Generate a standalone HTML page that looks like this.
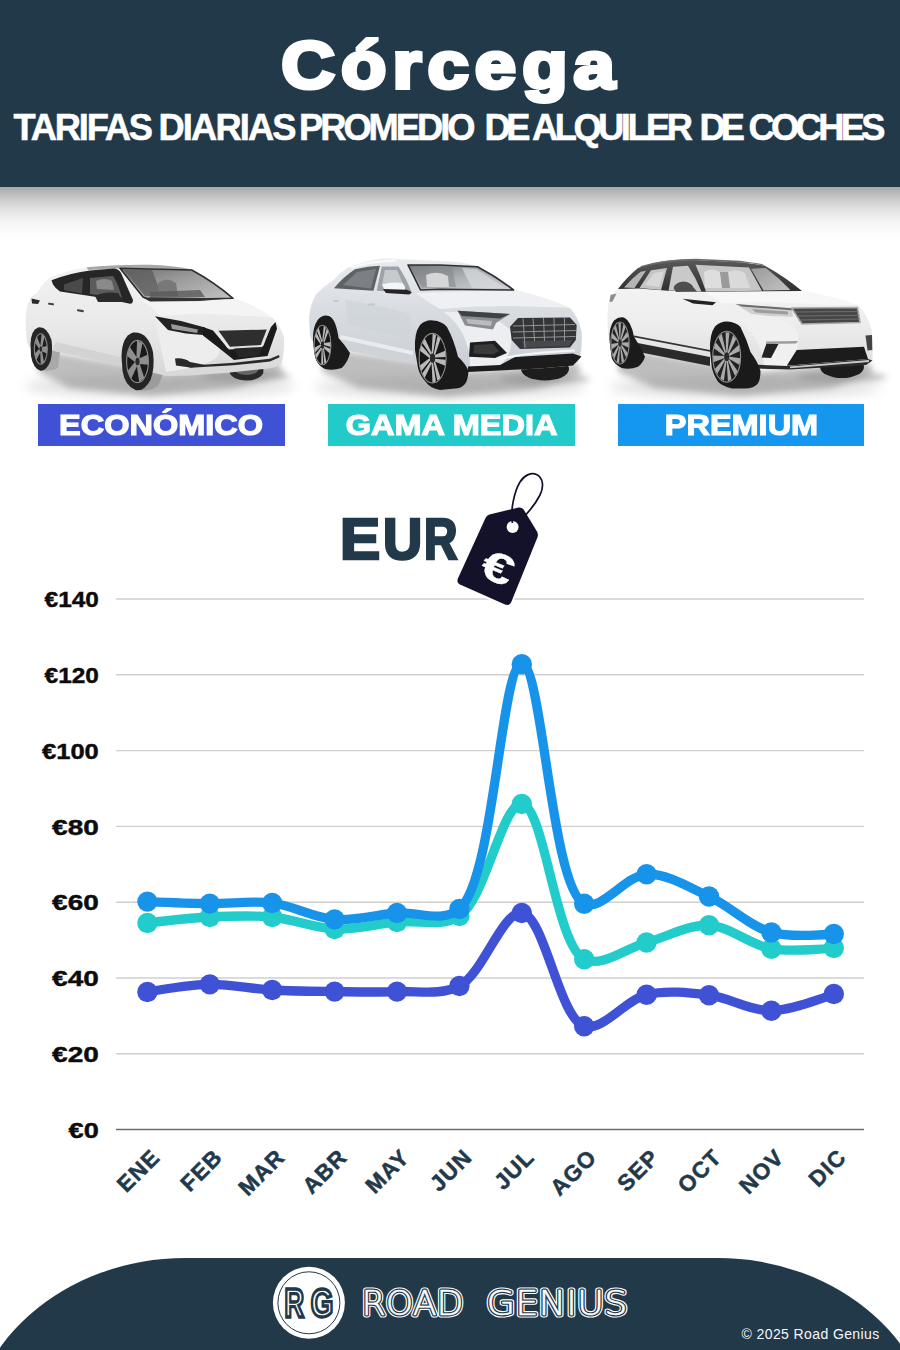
<!DOCTYPE html>
<html lang="es">
<head>
<meta charset="utf-8">
<title>Córcega – Tarifas diarias promedio de alquiler de coches</title>
<style>
html,body{margin:0;padding:0;background:#fff;}
body{width:900px;height:1350px;overflow:hidden;position:relative;font-family:"Liberation Sans",sans-serif;}
#page{position:absolute;left:0;top:0;width:900px;height:1350px;overflow:hidden;background:#fff;}
.hdr{position:absolute;left:0;top:0;width:900px;height:186.5px;background:#22394a;z-index:3;}
.hshadow{position:absolute;left:0;top:186px;width:900px;height:70px;z-index:1;
  background:linear-gradient(to bottom,rgba(155,155,155,.9) 0,rgba(178,178,178,.78) 10px,rgba(200,200,200,.57) 22px,rgba(225,225,225,.33) 36px,rgba(245,245,245,.12) 50px,rgba(255,255,255,0) 62px);}
.title{position:absolute;left:-2px;top:25px;width:900px;text-align:center;color:#fff;font-weight:700;font-size:67px;line-height:80px;letter-spacing:5.5px;text-indent:5.5px;-webkit-text-stroke:4px #fff;white-space:nowrap;z-index:4;transform:scaleX(1.108);transform-origin:449px 0;}
.sb text{font-family:"Liberation Sans",sans-serif;font-weight:700;font-size:36.3px;fill:#fff;stroke:#fff;stroke-width:.5px;}
.eu{font-family:"Liberation Sans",sans-serif;font-weight:700;font-size:56.5px;fill:#22394a;stroke:#22394a;stroke-width:2.6px;stroke-linejoin:miter;}
.lab{position:absolute;top:404px;height:42px;color:#fff;font-weight:700;font-size:29px;line-height:42px;text-align:center;white-space:nowrap;z-index:5;-webkit-text-stroke:1.2px #fff;}
.lab span{display:inline-block;transform:scaleX(1.12);}
.l1{left:38px;width:247px;background:#3f51d5;}
.l2{left:328px;width:247px;background:#22cbc9;}
.l3{left:618px;width:246px;background:#1596ef;}
svg{position:absolute;left:0;top:0;}
.yl{font-family:"Liberation Sans",sans-serif;font-weight:700;font-size:22.3px;fill:#0c0c0c;stroke:#0c0c0c;stroke-width:.45px;}
.xl{font-family:"Liberation Sans",sans-serif;font-weight:700;font-size:22.5px;fill:#22394a;stroke:#22394a;stroke-width:.5px;letter-spacing:1.1px;}
.ftr{position:absolute;left:-35px;top:1258px;width:973px;height:220px;background:#22394a;border-top-left-radius:220px 195px;border-top-right-radius:220px 195px;z-index:3;}
.copy{position:absolute;left:741.5px;top:1326px;color:#f4f6f8;font-size:14px;line-height:16px;letter-spacing:.4px;white-space:nowrap;z-index:6;}
</style>
</head>
<body>
<div id="page">
<div class="hshadow"></div>
<div class="hdr"></div>
<div class="title">Córcega</div>
<svg id="sub" width="900" height="190" viewBox="0 0 900 190" style="z-index:4"><g class="sb"><text y="140.3"><tspan x="13.50" textLength="139.50" lengthAdjust="spacing">TARIFAS</tspan> <tspan x="158.50" textLength="138.00" lengthAdjust="spacing">DIARIAS</tspan> <tspan x="299.00" textLength="176.50" lengthAdjust="spacing">PROMEDIO</tspan> <tspan x="484.50" textLength="46.00" lengthAdjust="spacing">DE</tspan> <tspan x="532.00" textLength="161.00" lengthAdjust="spacing">ALQUILER</tspan> <tspan x="699.50" textLength="45.50" lengthAdjust="spacing">DE</tspan> <tspan x="748.50" textLength="137.00" lengthAdjust="spacing">COCHES</tspan></text></g></svg>

<svg id="cars" width="900" height="470" viewBox="0 0 900 470" style="z-index:2">
<defs>
<filter id="blur6" x="-20%" y="-100%" width="140%" height="300%"><feGaussianBlur stdDeviation="6"/></filter>
<filter id="blur3" x="-20%" y="-100%" width="140%" height="300%"><feGaussianBlur stdDeviation="3"/></filter>
<filter id="blur1"><feGaussianBlur stdDeviation="0.7"/></filter>
<linearGradient id="b1" x1="0" y1="0" x2="0" y2="1"><stop offset="0" stop-color="#f3f3f3"/><stop offset=".55" stop-color="#e9e9e9"/><stop offset="1" stop-color="#d7d7d7"/></linearGradient>
<linearGradient id="ws1" x1="0" y1="0" x2="1" y2="1"><stop offset="0" stop-color="#6e6e6e"/><stop offset=".45" stop-color="#9c9c9c"/><stop offset="1" stop-color="#c4c4c4"/></linearGradient>
<linearGradient id="rim" x1="0" y1="0" x2="1" y2="1"><stop offset="0" stop-color="#b5b5b5"/><stop offset=".5" stop-color="#6e6e6e"/><stop offset="1" stop-color="#a5a5a5"/></linearGradient>
</defs>
<g id="car1">
<!-- ground shadow -->
<ellipse cx="160" cy="386" rx="135" ry="11" fill="#9a9a9a" opacity=".3" filter="url(#blur6)"/>
<ellipse cx="245" cy="376" rx="45" ry="5" fill="#777" opacity=".45" filter="url(#blur3)"/>
<path d="M40 350 L122 364 L160 374 L278 362 L284 374 L235 388 L150 396 L70 388 L38 372 Z" fill="#8a8a8a" opacity=".55" filter="url(#blur3)"/>
<!-- far front wheel -->
<ellipse cx="246.5" cy="371" rx="17" ry="9.5" fill="#2a2a2a"/>
<ellipse cx="246.5" cy="369" rx="12" ry="6" fill="#666"/>
<!-- tyre treads (visible thickness) -->
<path d="M44 330 Q58 338 60 352 L58 368 Q50 372 41 370 Z" fill="#a9a9a9"/>
<path d="M146 340 Q163 352 164 372 L158 386 Q148 392 138 390 Z" fill="#9c9c9c"/>
<!-- body -->
<path d="M50 277.5 Q66 270.5 86.7 267.3 Q113 264.5 150 264.8 Q172 265.2 191.7 269.5 Q214 282 233 298 Q256 306 273 318 Q281 327 284 337 Q284.5 352 281.7 363 Q277 367.5 268 368.5 L230 372.5 L190 375.5 L166 376 L154 373 L120 365.5 L52 350.5 L31.7 350 Q27 345 26.5 338 L25.6 320 Q26 306 30 299 Q33 295 36.7 293 Q42 284 50 277.5 Z" fill="url(#b1)"/>
<!-- body shading -->
<path d="M52 350.5 L120 365.5 L154 373 L154 366 L120 357 L56 342 Z" fill="#d0d0d0" opacity=".8"/>
<path d="M233 298 Q256 306 273 318 Q262 316 246 316 Q200 312 160 316 Q150 305 140 300 Z" fill="#f4f4f4"/>
<path d="M155 318 Q200 326 218 346 Q226 360 190 368 L166 372 Q160 345 155 318Z" fill="#ededed"/>
<!-- roof strip -->
<path d="M86.7 267.3 Q113 264.5 150 264.8 Q172 265.2 191.7 269.5 L191 271.5 Q160 267.5 118 268.5 L88 270 Z" fill="#a8a8a8"/>
<!-- side windows -->
<path d="M51.5 280.3 Q68 273.3 90 270.4 L114 268.6 Q119 269.2 121 273 L133 300 Q133 304.5 129 303.5 L100 297.5 L60 291.5 Q55 288 53 284.5 Z" fill="#262626"/>
<path d="M64 284.5 L83 278 L82 293.5 L64 290 Z" fill="#4a4a4a"/>
<path d="M90 278 L113 276 Q118 283 122 298 L104 296 L90 294 Z" fill="#5b5b5b"/>
<path d="M96 281 Q105 277 112 281 L114 290 L97 289 Z" fill="#8a8a8a"/>
<!-- windshield -->
<path d="M120 268.3 L191.7 270 Q214 282 233 298.3 L175 299.5 L150 300 L143 297 Z" fill="url(#ws1)" stroke="#2e2e2e" stroke-width="1.6" stroke-linejoin="round"/>
<path d="M124 270 L152 270 L162 296 L145 296 Z" fill="#5c5c5c" opacity=".75"/>
<path d="M158 283 Q167 276 176 283 L178 296 L158 296 Z" fill="#787878"/><path d="M150 292 L200 290 L205 297 L150 298Z" fill="#5a5a5a" opacity=".8"/>
<path d="M143 297.5 L233 298.3 L200 301 L150 301.5Z" fill="#333"/>
<!-- mirror -->
<path d="M95 296 Q104 291 118 293 L124 302 L98 302 Z" fill="#2b2b2b"/>
<!-- tail lamp / handles -->
<path d="M31.5 298.5 L40 300.5 L38 304 L32 303.5Z" fill="#2a2a2a"/>
<rect x="48" y="303" width="6" height="2" rx="1" fill="#444" transform="rotate(8 51 304)"/>
<rect x="77" y="309.5" width="7" height="2.2" rx="1" fill="#444" transform="rotate(10 80 310)"/>
<!-- headlight -->
<path d="M155 316.3 L181 321 L205 327.5 L203 335 L186 333.5 L168 330 Z" fill="#222"/>
<path d="M171 324 L198 329.5 L197 333 L172 329 Z" fill="#9a9a9a"/>
<!-- V-motion dark -->
<path d="M203 327 L213 330.5 L229 349.5 L262 347.5 L271 327 L275.5 322 L277 328.5 L267.5 356 L234 360 L219 348 L203 335.5 Z" fill="#1b1b1b"/>
<path d="M218.5 330.8 L266.7 329.6 L260.8 345 L230 346.7 Z" fill="#2e2e2e"/><path d="M214.5 330.6 L217.5 330.8 L229.6 347.6 L227.5 348.3Z" fill="#e8e8e8"/><path d="M267.8 329.6 L270 328.2 L263.3 346 L261.5 346Z" fill="#e0e0e0"/>
<path d="M234 348.5 L262 347 L259 356 L238 357.5Z" fill="#262626"/>
<!-- lower line & fog -->
<path d="M175 358.5 Q184 357.5 190 362 L208 365.5 L190 367.5 L176 365.5 Z" fill="#2a2a2a"/>
<path d="M188 365.8 L234 362.8 L270 358.8 L279 355 L279.6 357.2 L270 361.4 L234 365.3 L190 367.8Z" fill="#2a2a2a"/>
<!-- rear wheel -->
<path d="M30.5 344 Q31 330 38 327.5 Q47 326 51.5 340 Q53 352 50.5 361 Q46 372 40 370.5 Q33 368 31 356 Z" fill="#262626"/>
<g class="rim"><ellipse cx="40.8" cy="349.0" rx="6.8" ry="15.8" fill="#1c1c1c"/><path d="M40.3 346.2 L41.6 333.9 L44.6 336.7 L42.0 347.7 Z M41.8 347.1 L47.2 346.0 L47.0 353.6 L41.7 351.2 Z M41.9 350.6 L44.0 362.2 L40.8 364.2 L40.2 351.7 Z M40.5 351.9 L36.4 360.1 L34.6 353.8 L39.5 348.5 Z M39.5 349.2 L34.9 342.6 L36.9 336.8 L40.6 346.0 Z" fill="#8e8e8e"/><ellipse cx="40.8" cy="349.0" rx="6.5" ry="15.3" fill="none" stroke="#8d8d8d" stroke-width="1.1"/><ellipse cx="40.8" cy="349.0" rx="1.2" ry="2.7" fill="#2a2a2a"/></g><!--c1r-->
<!-- front wheel -->
<path d="M121.5 356 Q122 336 133 332.5 Q148 331 153 352 Q155 368 150.5 380 Q144 392 135.5 390 Q125 386 122.5 371 Z" fill="#242424"/>
<g class="rim"><ellipse cx="137.5" cy="361.5" rx="11.5" ry="21.8" fill="#1a1a1a"/><path d="M136.4 357.9 L137.1 340.6 L142.5 342.9 L139.3 359.1 Z M139.0 358.4 L147.9 354.4 L148.4 364.8 L139.2 364.0 Z M139.5 363.2 L144.3 378.0 L139.2 382.2 L136.8 365.4 Z M137.3 365.6 L131.3 378.8 L127.6 371.0 L135.3 361.4 Z M135.4 362.4 L126.9 355.7 L129.7 346.7 L136.9 357.5 Z" fill="#8e8e8e"/><ellipse cx="137.5" cy="361.5" rx="10.9" ry="21.1" fill="none" stroke="#8d8d8d" stroke-width="1.1"/><ellipse cx="137.5" cy="361.5" rx="2.0" ry="3.7" fill="#2a2a2a"/></g><!--c1f-->
</g>
<defs>
<linearGradient id="b2" x1="0" y1="0" x2="0" y2="1"><stop offset="0" stop-color="#e9ecef"/><stop offset=".45" stop-color="#d9dde2"/><stop offset="1" stop-color="#c9ced4"/></linearGradient>
<linearGradient id="ws2" x1="0" y1="0" x2="1" y2="1"><stop offset="0" stop-color="#707478"/><stop offset=".5" stop-color="#aeb1b5"/><stop offset="1" stop-color="#d0d3d6"/></linearGradient>
</defs>
<g id="car2">
<ellipse cx="450" cy="387" rx="135" ry="11" fill="#9a9a9a" opacity=".3" filter="url(#blur6)"/>
<ellipse cx="545" cy="379" rx="45" ry="5" fill="#777" opacity=".45" filter="url(#blur3)"/>
<path d="M322 348 L413 361 L465 372 L576 362 L582 374 L535 389 L445 397 L360 388 L322 372 Z" fill="#8a8a8a" opacity=".55" filter="url(#blur3)"/>
<!-- far wheel -->
<ellipse cx="545" cy="369" rx="24" ry="11.5" fill="#1d1d1d"/>
<!-- body -->
<path d="M346.7 268.3 Q361 262 380 258.8 Q389 257.6 396.7 259 L450 261.5 Q466 262.5 478 266.5 Q498 276 515 290 Q548 298 570 308 Q578 316 581.7 331.7 Q582.5 345 580 357 Q578 363 573 365.5 L540 368.5 L468 372 L455 370 L413 363.5 L338 348.5 L316 344 Q311 341 310 335 L309 317 Q311 302 316.7 293.5 Q324 286 333 280.5 Q340 273 346.7 268.3 Z" fill="url(#b2)"/>
<path d="M515 290 Q548 298 570 308 Q560 307 540 307 Q490 304 440 309 Q425 300 416 293 Z" fill="#eef0f3"/>
<path d="M345 300 Q372 304 410 314 L410 338 Q375 332 348 324 Z" fill="#cfd4da" opacity=".7"/>
<path d="M338 348.5 L413 363.5 L413 355 L340 339 Z" fill="#cfd3d8"/>
<path d="M340 339 L413 355 L413 351 L341 335Z" fill="#e9ecef"/>
<path d="M444 312 Q470 332 470 366 L500 366 Q515 352 510 330 Q500 318 470 312Z" fill="#eceef1"/>
<!-- roof rail highlight -->
<path d="M350 266.5 Q372 259.5 396 259.5 L396.5 261.5 Q372 262 352 268.5Z" fill="#f8f9fa"/>
<!-- windows -->
<path d="M334 288.3 Q343 277 355 269.2 Q368 266 380 265.8 L373.5 290.8 Z" fill="#5e6266"/>
<path d="M343 285 L357 272 L376 269 L371 288.5Z" fill="#7c8084"/>
<path d="M381.7 266.5 L398.5 266.5 Q406 278 412 293 L376.7 290.8 Z" fill="#9ea2a6"/>
<path d="M385 270 L397 270 L404 286 L382 285Z" fill="#c7cacd"/>
<!-- windshield -->
<path d="M408 265 L440 265 L477.5 266.7 Q497 277 513.5 290 L440 289.2 L420.5 290 Z" fill="url(#ws2)" stroke="#2f2f2f" stroke-width="1.6" stroke-linejoin="round"/>
<path d="M411 267 L452 267 L456 287 L422 287.5Z" fill="#85888c" opacity=".6"/>
<path d="M426 275 Q437 270 448 276 L449 287 L427 287Z" fill="#d4d6d8"/>
<path d="M462 268 L476 269 L505 288 L472 288Z" fill="#d9dbdd" opacity=".7"/>
<!-- mirror -->
<path d="M383 289 L405 289.5 Q411 290.5 411.5 293 L409 294.5 L386 293 Z" fill="#242424"/>
<path d="M382 284.5 Q391 281.5 402 283 Q405.5 285 405 289.5 L384 289 Z" fill="#f4f5f6"/>
<!-- door handles -->
<rect x="333" y="300" width="6" height="1.8" rx=".9" fill="#c3c7cb"/>
<rect x="368" y="303.5" width="7" height="2" rx="1" fill="#c3c7cb"/>
<!-- headlight -->
<path d="M457.5 310.8 L510 314 L496 323 L493 329.5 L465 325.5 Z" fill="#8a8e92"/>
<path d="M457.5 310.8 L510 314 L500 318.5 L462 316 Z" fill="#3f4245"/>
<path d="M466 319 L492 321 L491 326 L468 323.5Z" fill="#b9bcbf"/>
<!-- grille -->
<path d="M510 326.7 L518 318 L570 317.5 L576.7 325 L575.8 340 L570 347.5 L520 349 L511.7 340 Z" fill="#333537"/>
<path d="M522 341 L572 340 L569 346 L524 347.5Z" fill="#48494b"/>
<path d="M513 326 L575 324.5 M512.5 332 L576 330.5 M513 338 L575.5 336.5 M523 318.5 L525 348 M533 318.5 L534.5 341 M543.5 318 L544.5 341 M554 318 L554.5 341 M564.5 318 L564.5 341" stroke="#9a9da0" stroke-width=".9" fill="none"/>
<!-- side intake -->
<path d="M470 342.5 L495 340.8 L507 353 L495 358 L469 356.7 Z" fill="#1e1e1e"/>
<path d="M474 345 L493 344 L499 351 L493 354.5 L473.5 353.5Z" fill="#3a3a3a"/>
<!-- splitter -->
<path d="M468 366.5 L500 365 L515 357 L573 353.5 L581.5 356.5 L573 365.5 L540 368.5 L468 372 Z" fill="#1c1c1c"/>
<path d="M497 360 Q520 353 575 350.5" stroke="#f2f4f6" stroke-width="2.2" fill="none"/>
<!-- rear wheel + arch -->
<path d="M313 340 Q312.5 327 318 319.5 Q323 314 329 316 Q336 319 338.5 338 Q345 345 350 353 Q348 362 341.7 368 Q333 371 325 369 Q317 365 315 356.7 Z" fill="#1b1b1b"/>
<g class="rim"><ellipse cx="322.5" cy="345.0" rx="8.8" ry="20.3" fill="#171717"/><path d="M322.2 341.0 L323.8 325.4 L325.8 327.7 L323.0 341.9 Z M323.3 342.3 L326.6 328.7 L328.6 331.0 L324.1 343.3 Z M324.1 343.0 L331.0 341.9 L330.7 346.9 L323.9 345.0 Z M323.9 346.0 L330.5 349.0 L330.2 354.0 L323.7 348.0 Z M323.8 347.8 L326.4 362.7 L324.3 363.5 L322.9 348.1 Z M322.5 348.3 L323.3 363.8 L321.2 364.6 L321.6 348.6 Z M321.7 348.7 L316.4 359.0 L315.4 354.6 L321.3 346.9 Z M321.1 346.0 L315.0 352.6 L314.0 348.1 L320.7 344.2 Z M320.7 344.5 L314.8 336.0 L316.4 332.4 L321.4 343.0 Z M321.7 342.4 L317.0 330.9 L318.6 327.3 L322.3 340.9 Z" fill="#b9b9b9"/><ellipse cx="322.5" cy="345.0" rx="8.4" ry="19.7" fill="none" stroke="#8d8d8d" stroke-width="1.1"/><ellipse cx="322.5" cy="345.0" rx="1.5" ry="3.5" fill="#2a2a2a"/></g><!--c2r-->
<!-- front wheel + arch -->
<path d="M415 350 Q414 333 420 325 Q426 319.5 433 320.5 Q442 321 447 327 Q454 340 458 356.7 Q466 364 468.5 371 Q468 380 465 384 Q461 388.5 455 388.5 L440 390 Q430 388 426.7 383 Q420 376 418 368 Z" fill="#1a1a1a"/>
<g class="rim"><ellipse cx="432.6" cy="358.2" rx="14.2" ry="25.6" fill="#171717"/><path d="M431.6 353.3 L432.7 333.2 L436.0 335.2 L433.0 354.1 Z M433.6 354.5 L437.5 336.0 L440.8 338.0 L435.0 355.3 Z M434.9 355.0 L445.8 350.6 L445.8 357.0 L434.9 357.6 Z M434.9 358.8 L445.8 359.7 L445.8 366.1 L434.9 361.4 Z M435.0 361.1 L440.7 378.5 L437.3 380.5 L433.6 361.9 Z M433.0 362.3 L435.9 381.3 L432.5 383.2 L431.6 363.1 Z M431.8 363.2 L424.4 378.4 L422.3 373.2 L431.0 361.1 Z M430.6 360.1 L421.4 370.9 L419.4 365.8 L429.7 358.0 Z M429.7 358.3 L419.4 350.3 L421.5 345.2 L430.6 356.3 Z M431.0 355.3 L422.4 343.0 L424.5 337.8 L431.8 353.2 Z" fill="#b9b9b9"/><ellipse cx="432.6" cy="358.2" rx="13.5" ry="24.8" fill="none" stroke="#8d8d8d" stroke-width="1.1"/><ellipse cx="432.6" cy="358.2" rx="2.4" ry="4.4" fill="#2a2a2a"/></g><!--c2f-->
</g>
<defs>
<linearGradient id="b3" x1="0" y1="0" x2="0" y2="1"><stop offset="0" stop-color="#f6f6f6"/><stop offset=".55" stop-color="#eeeeee"/><stop offset="1" stop-color="#dedede"/></linearGradient>
<linearGradient id="ws3" x1="0" y1="0" x2="1" y2="1"><stop offset="0" stop-color="#9b9b9b"/><stop offset="1" stop-color="#c2c2c2"/></linearGradient>
<linearGradient id="rf3" x1="0" y1="0" x2="0" y2="1"><stop offset="0" stop-color="#5a5a5a"/><stop offset="1" stop-color="#2e2e2e"/></linearGradient>
</defs>
<g id="car3">
<ellipse cx="745" cy="387" rx="135" ry="11" fill="#9a9a9a" opacity=".3" filter="url(#blur6)"/>
<ellipse cx="842" cy="377" rx="45" ry="5" fill="#777" opacity=".45" filter="url(#blur3)"/>
<path d="M618 348 L710 363 L760 372 L868 361 L874 373 L830 388 L740 396 L655 388 L618 372 Z" fill="#8a8a8a" opacity=".55" filter="url(#blur3)"/>
<!-- far wheel -->
<ellipse cx="842" cy="367" rx="22" ry="11" fill="#1c1c1c"/>
<!-- body -->
<path d="M618 288 Q627 277 638 268 Q652 262.5 668 260.8 Q682 259.6 695 260 L735 262 Q752 263 765 265.8 Q785 277 801.7 290.8 Q835 297 858 305 Q867 313 871.7 330 Q873 345 872.5 360 Q870 364 865 364.5 L790 368.5 L751.7 367 L710 365.5 L635 351 L612 346 Q608.5 340 608 333 L607.5 320 Q607.5 308 609 300 Q612 294 618 288 Z" fill="url(#b3)"/>
<path d="M801.7 290.8 Q835 297 858 305 Q846 305 826 305 Q770 301 722 303 Q712 297 705 292 Z" fill="#f7f7f7"/>
<path d="M735 318 Q762 336 764 366 L790 366 Q800 352 798 332 Q790 320 765 316Z" fill="#f0f0f0"/>
<!-- greenhouse (dark roof + pillars) -->
<path d="M618 289 Q627 277 638 268 Q652 262.5 668 260.8 Q682 259.6 695 260 L735 262 Q752 263 765 265.8 Q785 277 802 291 L763 291.2 L701.7 291.8 L668 290.8 L639 288.6 Z" fill="url(#rf3)"/>
<path d="M640 267.5 Q668 260.5 700 260.6 L750 263 L765 265.8 L762 264 L740 260.8 L696 258.8 Q664 259.2 641 266Z" fill="#6a6a6a"/>
<!-- windows -->
<path d="M624 287.5 Q631 279 640.5 271.7 L646 270.8 L634.5 288 Z" fill="#b4b4b4"/>
<path d="M639.5 288 L651 270.2 L667 268 L661 290 Z" fill="#c4c4c4"/>
<path d="M645 285 L654 273 L664 271.5 L659 287Z" fill="#d8d8d8"/>
<path d="M668.5 290.6 L673 266.8 L688 265.8 Q696 278 701.5 291.6 Z" fill="#c9c9c9"/>
<!-- interior through front glass -->
<path d="M695.5 264.8 L749 267.5 L762 290.8 L706 291.6 Q701 277 695.5 264.8Z" fill="#c6c6c6"/>
<path d="M704 272 Q712 267 720 272 L722 288 L705 288Z" fill="#dedede"/>
<path d="M728 272 Q737 268 745 273 L750 288 L730 288Z" fill="#dadada"/>
<path d="M720 272 L728 272 L730 288 L722 288Z" fill="#9a9a9a"/>
<!-- windshield -->
<path d="M751 268.8 L765.8 268 Q779 278 790.5 290 L763.5 290.6 Z" fill="url(#ws3)"/>
<!-- mirror -->
<path d="M673.5 288 Q675 282.5 683 281.5 Q691 282 693.5 287.5 L697 291.5 L676 292 Z" fill="#4e4e4e"/>
<!-- tail lamp -->
<path d="M610.5 295 L616.5 293.5 L612.5 301.5 L609.5 302Z" fill="#8c8c8c"/>
<!-- fender vent -->
<path d="M682.5 298.8 L716 302.3 L712.5 305.3 L693 303.6 Z" fill="#222"/>
<!-- lower cladding -->
<path d="M634 335.5 L710 350 L710 351.8 L634 337.3Z" fill="#333"/>
<path d="M635 342.5 L710 357 L710 366 L636 351.5 Z" fill="#2a2a2a"/>
<!-- headlight -->
<path d="M735.5 304 L791.7 308.3 L793 316.7 L770 316 L751.7 314 Z" fill="#cfcfcf"/>
<path d="M735.5 304 L791.7 308.3 L791.9 310.3 L742 306.5Z" fill="#6c6c6c"/>
<path d="M752 309 L788 311.5 L788 314.5 L756 312.5Z" fill="#9d9d9d"/>
<!-- grille -->
<path d="M791.7 308 L857.5 307.5 L860 322.5 L802 324 Z" fill="#474747" stroke="#a9a9a9" stroke-width="1.6" stroke-linejoin="round"/>
<path d="M795 312 L858 311.5 M797 316 L859 315.3 M799.5 320 L859.5 319" stroke="#6e6e6e" stroke-width="1" fill="none"/>
<!-- lower intake -->
<path d="M796.7 350 L864 346.7 L868 359 L786.7 365.8 Z" fill="#1c1c1c"/>
<!-- side vents -->
<path d="M766.7 343 L778.5 344 L771 358 L761.5 357.5 Z" fill="#222"/>
<path d="M766 341.5 L798 341 L796 343.5 L767 344Z" fill="#9c9c9c"/>
<path d="M865.5 335.5 L872 335 L872.3 350 L867.5 350.5Z" fill="#444"/>
<!-- skid / lip -->
<path d="M751.7 364.5 L787 366 L868 359 L872.5 360.5 L866 365 L790 369.5 L751.7 368.5Z" fill="#2b2b2b"/>
<path d="M790 367.3 L869 361" stroke="#c9c9c9" stroke-width="1.8"/>
<!-- rear wheel + arch -->
<path d="M609.5 340 Q609 327 614 320.5 Q619 316 624 317.5 Q631 321 634 336.7 Q641 347 645 356.7 Q643 363 638 366.7 Q630 370 621.7 368 Q614 364 611.7 358 Z" fill="#1b1b1b"/>
<g class="rim"><ellipse cx="620.0" cy="343.0" rx="9.6" ry="21.7" fill="#242424"/><path d="M621.4 342.4 L629.0 342.2 L628.8 347.8 L621.3 344.2 Z M621.3 344.2 L627.8 353.3 L626.2 357.8 L620.8 345.6 Z M620.8 345.6 L624.1 361.2 L621.7 363.0 L620.1 346.2 Z M620.0 346.2 L619.1 363.3 L616.6 361.9 L619.3 345.7 Z M619.3 345.7 L614.4 358.9 L612.7 354.8 L618.8 344.5 Z M618.7 344.4 L611.5 349.5 L611.0 344.0 L618.6 342.7 Z M618.6 342.7 L611.3 338.0 L612.2 332.8 L618.9 341.1 Z M618.9 341.0 L613.8 328.1 L615.9 324.9 L619.5 340.0 Z M619.6 340.0 L618.4 323.0 L620.9 322.7 L620.3 339.9 Z M620.3 339.9 L623.4 324.1 L625.6 327.0 L621.0 340.8 Z M621.0 340.8 L627.4 331.3 L628.5 336.4 L621.4 342.4 Z" fill="#aaaaaa"/><ellipse cx="620.0" cy="343.0" rx="9.1" ry="21.0" fill="none" stroke="#8d8d8d" stroke-width="1.1"/><ellipse cx="620.0" cy="343.0" rx="1.6" ry="3.7" fill="#2a2a2a"/></g><!--c3r-->
<!-- front wheel + arch -->
<path d="M710 350 Q709.5 334 715 326.5 Q720 321.5 727 321.5 Q736 322 740.5 327 Q747 340 750.5 352 Q758 362 760.5 371 Q760.5 380 757.5 384 Q753 388.5 745 388.5 L732 388.5 Q722 386 718 381.7 Q713 374 711.7 366.7 Z" fill="#1a1a1a"/>
<g class="rim"><ellipse cx="726.7" cy="356.7" rx="14.6" ry="26.2" fill="#222222"/><path d="M728.8 356.4 L740.4 358.2 L739.6 364.9 L728.6 358.5 Z M728.6 358.5 L737.8 371.2 L735.1 376.1 L727.8 360.0 Z M727.7 360.0 L731.6 379.7 L727.9 381.2 L726.6 360.5 Z M726.6 360.5 L723.9 380.8 L720.3 378.5 L725.5 359.8 Z M725.4 359.8 L717.1 374.3 L714.8 368.9 L724.7 358.1 Z M724.7 358.1 L713.3 362.2 L713.0 355.4 L724.6 356.0 Z M724.6 355.9 L713.8 348.3 L715.6 342.3 L725.2 354.1 Z M725.2 354.0 L718.4 337.2 L721.7 333.8 L726.2 353.0 Z M726.2 353.0 L725.6 332.2 L729.4 332.6 L727.4 353.1 Z M727.4 353.1 L733.1 335.0 L736.2 339.0 L728.4 354.3 Z M728.4 354.4 L738.7 344.7 L740.0 351.0 L728.8 356.3 Z" fill="#aaaaaa"/><ellipse cx="726.7" cy="356.7" rx="13.9" ry="25.4" fill="none" stroke="#8d8d8d" stroke-width="1.1"/><ellipse cx="726.7" cy="356.7" rx="2.5" ry="4.5" fill="#2a2a2a"/></g><!--c3f-->
</g>

</svg>

<div class="lab l1"><span>ECONÓMICO</span></div>
<div class="lab l2"><span>GAMA MEDIA</span></div>
<div class="lab l3"><span>PREMIUM</span></div>

<svg id="eur" width="900" height="620" viewBox="0 0 900 620" style="z-index:5"><text y="559.2" class="eu"><tspan x="340.00" textLength="40.20" lengthAdjust="spacingAndGlyphs">E</tspan><tspan x="382.90" textLength="39.20" lengthAdjust="spacingAndGlyphs">U</tspan><tspan x="423.90" textLength="33.50" lengthAdjust="spacingAndGlyphs">R</tspan></text></svg>

<svg id="chart" width="900" height="1350" viewBox="0 0 900 1350" style="z-index:4">
<line x1="116" x2="864" y1="599.0" y2="599.0" stroke="#cfcfcf" stroke-width="1.4"/>
<line x1="116" x2="864" y1="674.8" y2="674.8" stroke="#cfcfcf" stroke-width="1.4"/>
<line x1="116" x2="864" y1="750.6" y2="750.6" stroke="#cfcfcf" stroke-width="1.4"/>
<line x1="116" x2="864" y1="826.4" y2="826.4" stroke="#cfcfcf" stroke-width="1.4"/>
<line x1="116" x2="864" y1="902.2" y2="902.2" stroke="#cfcfcf" stroke-width="1.4"/>
<line x1="116" x2="864" y1="978.0" y2="978.0" stroke="#cfcfcf" stroke-width="1.4"/>
<line x1="116" x2="864" y1="1053.7" y2="1053.7" stroke="#cfcfcf" stroke-width="1.4"/>
<line x1="116" x2="864" y1="1129.5" y2="1129.5" stroke="#6b6b6b" stroke-width="1.4"/>

<g id="tag">
<path d="M489.5 514.5 L518.5 507.6 Q521.5 507 523.6 509.4 L537 531.5 Q538.6 534.5 537.4 537.6 L511.3 602 Q509.3 606.3 505 604.6 L460 584.6 Q456.2 582.6 457.9 578.6 L485.5 518 Q486.8 515.3 489.5 514.5 Z" fill="#14122b" stroke="#fff" stroke-width="4" paint-order="stroke"/>
<circle cx="512.6" cy="527" r="6" fill="#fff"/>
<path d="M512.5 523 C510 512 514 492 520 482 C524 475.5 531 472 536.5 474.5 C543.5 478 544 487 540 495 C535 505 526 515 519.5 521.5" fill="none" stroke="#14122b" stroke-width="1.7"/>
<text transform="translate(498 567.6) rotate(22) scale(1.36 1)" text-anchor="middle" y="14.6" font-family="Liberation Sans, sans-serif" font-weight="700" font-size="42" fill="#fff" stroke="#fff" stroke-width=".3">€</text>
</g>

<text x="44.6" y="607.1" textLength="54.2" lengthAdjust="spacingAndGlyphs" class="yl">€140</text>
<text x="44.6" y="682.9" textLength="54.2" lengthAdjust="spacingAndGlyphs" class="yl">€120</text>
<text x="42.1" y="758.7" textLength="56.7" lengthAdjust="spacingAndGlyphs" class="yl">€100</text>
<text x="52.1" y="834.5" textLength="46.7" lengthAdjust="spacingAndGlyphs" class="yl">€80</text>
<text x="52.1" y="910.3" textLength="46.7" lengthAdjust="spacingAndGlyphs" class="yl">€60</text>
<text x="52.1" y="986.1" textLength="46.7" lengthAdjust="spacingAndGlyphs" class="yl">€40</text>
<text x="52.1" y="1061.8" textLength="46.7" lengthAdjust="spacingAndGlyphs" class="yl">€20</text>
<text x="68.6" y="1137.6" textLength="30.2" lengthAdjust="spacingAndGlyphs" class="yl">€0</text>

<path d="M147.4 992.0 C147.4 992.0 189.0 984.7 209.8 984.4 C230.6 984.1 251.4 988.8 272.2 990.0 C293.0 991.2 313.8 991.3 334.6 991.6 C355.4 991.9 376.2 992.5 397.0 991.6 C417.8 990.7 440.4 995.8 459.4 986.0 C482.9 973.8 502.3 911.0 521.8 913.0 C544.4 915.3 559.1 1018.4 584.2 1026.2 C602.7 1031.9 625.2 999.7 646.6 994.7 C666.8 990.0 688.4 992.6 709.0 995.2 C730.0 997.8 750.6 1010.9 771.4 1010.7 C792.2 1010.5 833.8 994.0 833.8 994.0" fill="none" stroke="#3f51d5" stroke-width="9.3" stroke-linecap="round" stroke-linejoin="round"/>
<g fill="#3f51d5"><circle cx="147.4" cy="992.0" r="10.2"/><circle cx="209.8" cy="984.4" r="10.2"/><circle cx="272.2" cy="990.0" r="10.2"/><circle cx="334.6" cy="991.6" r="10.2"/><circle cx="397.0" cy="991.6" r="10.2"/><circle cx="459.4" cy="986.0" r="10.2"/><circle cx="521.8" cy="913.0" r="10.2"/><circle cx="584.2" cy="1026.2" r="10.2"/><circle cx="646.6" cy="994.7" r="10.2"/><circle cx="709.0" cy="995.2" r="10.2"/><circle cx="771.4" cy="1010.7" r="10.2"/><circle cx="833.8" cy="994.0" r="10.2"/></g>
<path d="M147.4 923.0 C147.4 923.0 189.0 918.0 209.8 917.0 C230.6 916.0 251.5 915.0 272.2 917.0 C293.1 919.0 313.7 928.2 334.6 929.0 C355.3 929.8 376.2 924.2 397.0 922.0 C417.8 919.8 441.2 927.9 459.4 916.0 C485.5 899.0 502.2 802.8 521.8 804.0 C544.2 805.4 555.6 944.9 584.2 959.2 C602.0 968.1 625.8 948.1 646.6 942.5 C667.4 936.8 688.4 924.4 709.0 925.3 C730.0 926.3 750.2 945.1 771.4 948.8 C791.9 952.4 833.8 948.0 833.8 948.0" fill="none" stroke="#22cccb" stroke-width="9.3" stroke-linecap="round" stroke-linejoin="round"/>
<g fill="#22cccb"><circle cx="147.4" cy="923.0" r="10.2"/><circle cx="209.8" cy="917.0" r="10.2"/><circle cx="272.2" cy="917.0" r="10.2"/><circle cx="334.6" cy="929.0" r="10.2"/><circle cx="397.0" cy="922.0" r="10.2"/><circle cx="459.4" cy="916.0" r="10.2"/><circle cx="521.8" cy="804.0" r="10.2"/><circle cx="584.2" cy="959.2" r="10.2"/><circle cx="646.6" cy="942.5" r="10.2"/><circle cx="709.0" cy="925.3" r="10.2"/><circle cx="771.4" cy="948.8" r="10.2"/><circle cx="833.8" cy="948.0" r="10.2"/></g>
<path d="M147.4 901.6 C147.4 901.6 189.0 903.4 209.8 903.6 C230.6 903.8 251.6 900.4 272.2 903.0 C293.2 905.6 313.7 917.8 334.6 919.4 C355.3 921.0 376.2 914.7 397.0 913.0 C417.8 911.3 442.1 923.4 459.4 909.0 C494.2 880.1 500.9 664.3 521.8 664.2 C542.5 664.1 551.2 888.3 584.2 903.7 C601.6 911.8 625.6 875.3 646.6 874.3 C667.2 873.3 688.6 887.1 709.0 896.5 C730.3 906.3 749.8 926.4 771.4 932.5 C791.5 938.1 833.8 934.0 833.8 934.0" fill="none" stroke="#1794ea" stroke-width="9.3" stroke-linecap="round" stroke-linejoin="round"/>
<g fill="#1794ea"><circle cx="147.4" cy="901.6" r="10.2"/><circle cx="209.8" cy="903.6" r="10.2"/><circle cx="272.2" cy="903.0" r="10.2"/><circle cx="334.6" cy="919.4" r="10.2"/><circle cx="397.0" cy="913.0" r="10.2"/><circle cx="459.4" cy="909.0" r="10.2"/><circle cx="521.8" cy="664.2" r="10.2"/><circle cx="584.2" cy="903.7" r="10.2"/><circle cx="646.6" cy="874.3" r="10.2"/><circle cx="709.0" cy="896.5" r="10.2"/><circle cx="771.4" cy="932.5" r="10.2"/><circle cx="833.8" cy="934.0" r="10.2"/></g>
<text transform="translate(161.4 1158.5) rotate(-45)" text-anchor="end" class="xl">ENE</text>
<text transform="translate(223.8 1158.5) rotate(-45)" text-anchor="end" class="xl">FEB</text>
<text transform="translate(286.2 1158.5) rotate(-45)" text-anchor="end" class="xl">MAR</text>
<text transform="translate(348.6 1158.5) rotate(-45)" text-anchor="end" class="xl">ABR</text>
<text transform="translate(411.0 1158.5) rotate(-45)" text-anchor="end" class="xl">MAY</text>
<text transform="translate(473.4 1158.5) rotate(-45)" text-anchor="end" class="xl">JUN</text>
<text transform="translate(535.8 1158.5) rotate(-45)" text-anchor="end" class="xl">JUL</text>
<text transform="translate(598.2 1158.5) rotate(-45)" text-anchor="end" class="xl">AGO</text>
<text transform="translate(660.6 1158.5) rotate(-45)" text-anchor="end" class="xl">SEP</text>
<text transform="translate(723.0 1158.5) rotate(-45)" text-anchor="end" class="xl">OCT</text>
<text transform="translate(785.4 1158.5) rotate(-45)" text-anchor="end" class="xl">NOV</text>
<text transform="translate(847.8 1158.5) rotate(-45)" text-anchor="end" class="xl">DIC</text>

</svg>

<div class="ftr"></div>
<svg id="logo" width="900" height="1350" viewBox="0 0 900 1350" style="z-index:6">
<circle cx="308.9" cy="1302.8" r="36" fill="#fff"/>
<circle cx="308.9" cy="1302.8" r="31" fill="none" stroke="#22394a" stroke-width="1"/>
<g font-family="Liberation Sans, sans-serif" font-weight="700" font-size="40" text-anchor="middle">
<text x="294.3" y="1317" textLength="19.5" lengthAdjust="spacingAndGlyphs" fill="#22394a" stroke="#22394a" stroke-width="2">R</text>
<text x="322" y="1317" textLength="22.5" lengthAdjust="spacingAndGlyphs" fill="#22394a" stroke="#22394a" stroke-width="2">G</text>
<text x="294.3" y="1317" textLength="19.5" lengthAdjust="spacingAndGlyphs" fill="#fff" stroke="#22394a" stroke-width="3.3">R</text>
<text x="322" y="1317" textLength="22.5" lengthAdjust="spacingAndGlyphs" fill="#fff" stroke="#22394a" stroke-width="3.3">G</text>
</g>
<g font-family="DejaVu Sans, sans-serif" font-weight="200" font-size="33" stroke-linejoin="round" stroke-linecap="round">
<g fill="#fff" stroke="#fff" stroke-width="5.2">
<text x="361.5" y="1315.1" textLength="102.0" lengthAdjust="spacingAndGlyphs">ROAD</text>
<text x="486.5" y="1315.1" textLength="141.0" lengthAdjust="spacingAndGlyphs">GENIUS</text>
</g>
<g fill="#22394a" stroke="#22394a" stroke-width="3.0">
<text x="361.5" y="1315.1" textLength="102.0" lengthAdjust="spacingAndGlyphs">ROAD</text>
<text x="486.5" y="1315.1" textLength="141.0" lengthAdjust="spacingAndGlyphs">GENIUS</text>
</g>
<g fill="#fff" stroke="#fff" stroke-width=".5">
<text x="361.5" y="1315.1" textLength="102.0" lengthAdjust="spacingAndGlyphs">ROAD</text>
<text x="486.5" y="1315.1" textLength="141.0" lengthAdjust="spacingAndGlyphs">GENIUS</text>
</g>
</g>
</svg>
<div class="copy">© 2025 Road Genius</div>
</div>
</body>
</html>
